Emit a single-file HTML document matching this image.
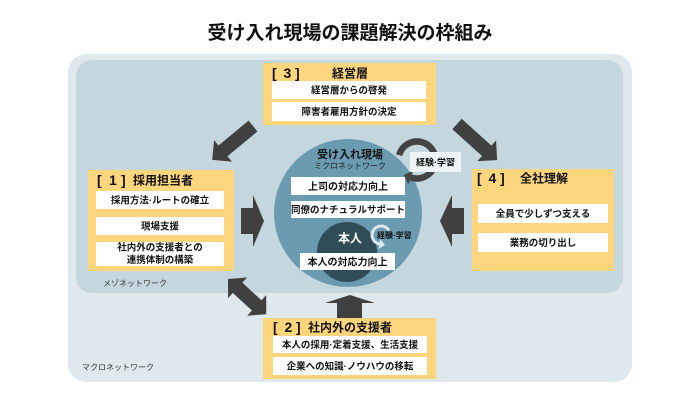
<!DOCTYPE html>
<html><head><meta charset="utf-8"><style>
html,body{margin:0;padding:0;background:#fff;}
svg{display:block;font-family:"Liberation Sans","Noto Sans CJK JP",sans-serif;}
.b{font-weight:bold;fill:#111;}
.k{font-weight:bold;fill:#111;font-size:14px;font-family:"Liberation Sans",sans-serif;}
</style></head><body>
<svg width="700" height="400" viewBox="0 0 700 400" xmlns="http://www.w3.org/2000/svg">
<text x="350" y="39" text-anchor="middle" class="b" font-size="19">受け入れ現場の課題解決の枠組み</text>

<rect x="68" y="54" width="564" height="328" rx="18" fill="#dfe9ed"/>
<rect x="76" y="60" width="547" height="233" rx="16" fill="#c4d7df"/>

<text x="103" y="286" font-size="8" fill="#333">メゾネットワーク</text>
<text x="82" y="370" font-size="8" fill="#333">マクロネットワーク</text>

<!-- main circle -->
<circle cx="348" cy="213" r="74" fill="#6a9bb0"/>
<circle cx="347" cy="252" r="30" fill="#2f4c57"/>
<text x="350" y="158" text-anchor="middle" class="b" font-size="11">受け入れ現場</text>
<text x="350" y="168.5" text-anchor="middle" font-size="8" fill="#222">ミクロネットワーク</text>
<rect x="291" y="177" width="114" height="18" fill="#fff"/>
<text x="348" y="189.8" text-anchor="middle" class="b" font-size="10">上司の対応力向上</text>
<rect x="291" y="201" width="114" height="17" fill="#fff"/>
<text x="348" y="213.2" text-anchor="middle" class="b" font-size="9.5">同僚のナチュラルサポート</text>
<text x="350" y="242.5" text-anchor="middle" font-weight="bold" fill="#fff" font-size="12">本人</text>
<rect x="300" y="253" width="95" height="17" fill="#fff"/>
<text x="347.5" y="265.3" text-anchor="middle" class="b" font-size="10">本人の対応力向上</text>

<!-- small cycle -->
<path d="M 388.8 230.5 A 9 9 0 1 0 379.4 243.9" fill="none" stroke="#dbe8ee" stroke-width="3"/>
<polygon points="385,244.9 380.2,239 378.6,248.8" fill="#dbe8ee"/>
<text x="377" y="238" class="b" font-size="8">経験<tspan font-family="Liberation Sans">·</tspan>学習</text>

<!-- big cycle -->
<path d="M 399.1 155.2 A 18.5 18.5 0 1 1 410.7 177.4" fill="none" stroke="#444" stroke-width="6.5"/>
<polygon points="404,175 408.3,184.5 413.3,170.5" fill="#444"/>
<rect x="410" y="152" width="51" height="20" fill="#eef3f5"/>
<text x="435.5" y="165.5" text-anchor="middle" class="b" font-size="9">経験<tspan font-family="Liberation Sans">·</tspan>学習</text>

<!-- arrows -->
<g fill="#404040">
<polygon points="0,-7 39,-7 39,-14 53,0 39,14 39,7 0,7" transform="translate(253,126) rotate(140.3)"/>
<polygon points="0,-7 40,-7 40,-14 54,0 40,14 40,7 0,7" transform="translate(457,124) rotate(42)"/>
<polygon points="0,0 13,-14 13,-7 39,-7 39,-14 52,0 39,14 39,7 13,7 13,14" transform="translate(228,279) rotate(42.6)"/>
<polygon points="241,208 253,208 253,195 264,221 253,247 253,234 241,234"/>
<polygon points="464,208 452,208 452,195 440,221 452,247 452,234 464,234"/>
<polygon points="337,318 337,303 325,303 350,295 375,303 362,303 362,318"/>
</g>

<!-- [3] -->
<rect x="263" y="63" width="173" height="62" fill="#fdd57c"/>
<text y="78" class="k"><tspan x="272">[</tspan><tspan x="283.5">3</tspan><tspan x="295">]</tspan></text>
<text x="332" y="77.6" class="b" font-size="12">経営層</text>
<rect x="272" y="81" width="154" height="18" fill="#fff"/>
<text x="349" y="93.6" text-anchor="middle" class="b" font-size="9.5">経営層からの啓発</text>
<rect x="272" y="102" width="154" height="19" fill="#fff"/>
<text x="349" y="115" text-anchor="middle" class="b" font-size="9.5">障害者雇用方針の決定</text>

<!-- [1] -->
<rect x="88" y="170" width="146" height="101" fill="#fdd57c"/>
<text y="185" class="k"><tspan x="97">[</tspan><tspan x="109">1</tspan><tspan x="121">]</tspan></text>
<text x="133" y="184.6" class="b" font-size="12">採用担当者</text>
<rect x="96" y="191" width="128" height="18" fill="#fff"/>
<text x="160" y="203.6" text-anchor="middle" class="b" font-size="9.5">採用方法<tspan font-family="Liberation Sans">·</tspan>ルートの確立</text>
<rect x="96" y="217" width="128" height="18" fill="#fff"/>
<text x="160" y="229.6" text-anchor="middle" class="b" font-size="9.5">現場支援</text>
<rect x="96" y="242" width="128" height="24" fill="#fff"/>
<text x="160" y="250.6" text-anchor="middle" class="b" font-size="9.5">社内外の支援者との</text>
<text x="160" y="263.2" text-anchor="middle" class="b" font-size="9.5">連携体制の構築</text>

<!-- [4] -->
<rect x="472" y="169" width="142" height="102" fill="#fdd57c"/>
<text y="183" class="k"><tspan x="477">[</tspan><tspan x="488.5">4</tspan><tspan x="500">]</tspan></text>
<text x="520" y="182.6" class="b" font-size="12">全社理解</text>
<rect x="478" y="204" width="130" height="19" fill="#fff"/>
<text x="543" y="217" text-anchor="middle" class="b" font-size="9.5">全員で少しずつ支える</text>
<rect x="478" y="233" width="130" height="19" fill="#fff"/>
<text x="543" y="246" text-anchor="middle" class="b" font-size="9.5">業務の切り出し</text>

<!-- [2] -->
<rect x="263" y="318" width="173" height="61" fill="#fdd57c"/>
<text y="332" class="k"><tspan x="273">[</tspan><tspan x="284.5">2</tspan><tspan x="296">]</tspan></text>
<text x="308" y="331.6" class="b" font-size="12">社内外の支援者</text>
<rect x="273" y="336" width="154" height="17" fill="#fff"/>
<text x="350" y="348" text-anchor="middle" class="b" font-size="9.5">本人の採用<tspan font-family="Liberation Sans">·</tspan>定着支援、生活支援</text>
<rect x="273" y="357" width="154" height="18" fill="#fff"/>
<text x="350" y="369.6" text-anchor="middle" class="b" font-size="9.5">企業への知識<tspan font-family="Liberation Sans">·</tspan>ノウハウの移転</text>
</svg>
</body></html>
